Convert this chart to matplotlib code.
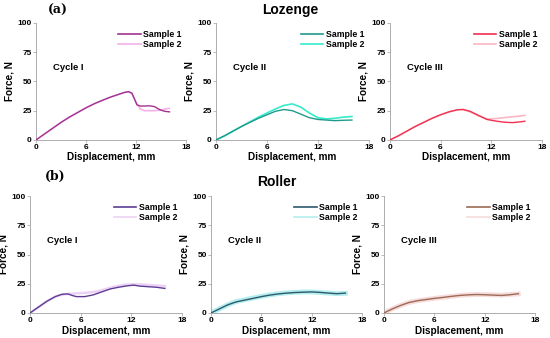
import matplotlib
matplotlib.use("Agg")
import matplotlib.pyplot as plt

plt.rcParams["font.family"] = ["Liberation Sans", "DejaVu Sans"]

# displacement (mm) / force (N)
# Lozenge, cycle I
loz1_x1 = [0, 1, 2, 3, 4, 5, 6, 7, 8, 9, 10, 10.6, 11.1, 11.5, 11.8, 12.1, 12.5, 13, 13.6, 14.2, 14.8, 15.4, 16]
loz1_y1 = [0, 5, 10, 15, 19.5, 23.5, 27.5, 31, 34, 36.8, 39.2, 40.6, 41.3, 40, 35, 30, 29, 29, 29.2, 28.5, 26, 24.5, 24]
loz1_x2 = [0, 1, 2, 3, 4, 5, 6, 7, 8, 9, 10, 10.6, 11.1, 11.5, 12, 12.5, 13, 14, 15, 15.5, 16]
loz1_y2 = [0, 5, 10, 15, 19.5, 23.5, 27.5, 31, 34, 36.8, 39.2, 40.6, 41, 39.5, 32, 26.5, 25, 25, 25.5, 26.5, 27]
# Lozenge, cycle II
loz2_x1 = [0, 1, 2, 3, 4, 5, 6, 7, 8, 9, 10, 11, 12, 13, 14, 15, 16]
loz2_y1 = [0, 3.5, 7.5, 11.5, 15, 18.5, 21.5, 24.5, 26, 25, 22, 19, 17.5, 17, 16.5, 16.8, 17]
loz2_x2 = [0, 1, 2, 3, 4, 5, 6, 7, 8, 9, 10, 11, 12, 13, 14, 15, 16]
loz2_y2 = [0, 3.5, 7.5, 11.5, 15.5, 19.5, 23, 26.5, 29.5, 30.8, 28, 23, 19, 18, 18.5, 19.5, 20]
# Lozenge, cycle III
loz3_x1 = [0, 1, 2, 3, 4, 5, 6, 7, 8, 8.7, 9.5, 10.5, 11.5, 12.5, 13.5, 14.5, 15.5, 16]
loz3_y1 = [0, 3.5, 7.5, 11.5, 15, 18.5, 21.5, 24, 25.8, 26, 24.5, 21, 17.5, 16.2, 15.2, 14.8, 15.5, 16]
loz3_x2 = [0, 1, 2, 3, 4, 5, 6, 7, 8, 8.7, 9.5, 10.5, 11.5, 12.5, 13.5, 14.5, 15.5, 16]
loz3_y2 = [0, 3.5, 7.5, 11.5, 15, 18.5, 21.5, 24, 25.8, 26, 24, 20.5, 18, 18.2, 19, 19.8, 20.5, 21]
# Roller, cycle I
rol1_x1 = [0, 1, 2, 3, 3.8, 4.5, 5, 5.5, 6.5, 7.5, 8.5, 9.5, 10.5, 11.5, 12.3, 13, 14, 15, 16]
rol1_y1 = [0, 5, 10, 14, 16, 16.3, 15, 14, 14, 15.5, 18, 20.5, 22, 23.2, 23.8, 23, 22.5, 22, 21]
rol1_x2 = [0, 1, 2, 3, 4, 5, 6, 7, 8, 9, 10, 11, 12, 13, 14, 15, 16]
rol1_y2 = [0, 5, 10, 14, 16, 16.5, 17, 17.5, 18.5, 20.5, 22.5, 24, 24.5, 24.5, 24, 23.5, 23]
# Roller, cycle II
rol2_x1 = [0, 1, 2, 3, 4, 5, 6, 7, 8, 9, 10, 11, 12, 13, 14, 15, 16]
rol2_y1 = [0, 3.5, 7, 9.5, 11, 12.5, 14, 15.3, 16.3, 17, 17.5, 17.8, 18, 17.6, 17, 16.5, 17]
rol2_x2 = [0, 1, 2, 3, 4, 5, 6, 7, 8, 9, 10, 11, 12, 13, 14, 15, 16]
rol2_y2 = [0, 3.5, 7, 9.8, 11.3, 12.8, 14.2, 15.5, 16.5, 17.2, 17.7, 18, 18, 17.5, 17, 16.5, 16.8]
# Roller, cycle III
rol3_x1 = [0, 1, 2, 3, 4, 5, 6, 7, 8, 9, 10, 11, 12, 13, 14, 15, 16]
rol3_y1 = [0, 3.5, 6.5, 9, 10.5, 11.5, 12.5, 13.3, 14.2, 15, 15.5, 15.8, 15.6, 15.3, 15, 15.6, 16.5]
rol3_x2 = [0, 1, 2, 3, 4, 5, 6, 7, 8, 9, 10, 11, 12, 13, 14, 15, 16]
rol3_y2 = [0, 3.5, 6.5, 9, 10.5, 11.5, 12.5, 13.3, 14.2, 15, 15.5, 15.8, 15.8, 15.5, 15.3, 15.8, 16.3]

x_ticks = [0, 6, 12, 18]
y_ticks = [0, 25, 50, 75, 100]
cycle_names = ["Cycle I", "Cycle II", "Cycle III"]

panels = [
    # (rect, x1, y1, x2, y2, color1, color2, lw2, cycle)
    ([0.0655, 0.586, 0.273, 0.346], loz1_x1, loz1_y1, loz1_x2, loz1_y2, "#a2338f", "#f4b2ea", 1.2, 0),
    ([0.3927, 0.586, 0.278, 0.346], loz2_x1, loz2_y1, loz2_x2, loz2_y2, "#1f9a8c", "#35ecca", 1.2, 1),
    ([0.709, 0.586, 0.276, 0.346], loz3_x1, loz3_y1, loz3_x2, loz3_y2, "#f2304f", "#f9b8c2", 1.2, 2),
    ([0.0545, 0.074, 0.276, 0.346], rol1_x1, rol1_y1, rol1_x2, rol1_y2, "#5e3d96", "#ecd2f4", 1.8, 0),
    ([0.3836, 0.074, 0.275, 0.346], rol2_x1, rol2_y1, rol2_x2, rol2_y2, "#2d5a6e", "#b4eeee", 3.5, 1),
    ([0.698, 0.074, 0.275, 0.346], rol3_x1, rol3_y1, rol3_x2, rol3_y2, "#9c6a55", "#f6dcdc", 3.5, 2),
]

fig = plt.figure(figsize=(5.5, 3.38), dpi=100)

for rect, x1, y1, x2, y2, c1, c2, lw2, cyc in panels:
    ax = fig.add_axes(rect)
    ax.plot(x2, y2, color=c2, lw=lw2, label="Sample 2", zorder=2)
    ax.plot(x1, y1, color=c1, lw=1.0, label="Sample 1", zorder=3)
    ax.set_xlim(0, 18)
    ax.set_ylim(0, 100)
    ax.set_xticks(x_ticks)
    ax.set_yticks(y_ticks)
    for s in ["top", "right"]:
        ax.spines[s].set_visible(False)
    for s in ["left", "bottom"]:
        ax.spines[s].set_color("#a0a0a0")
        ax.spines[s].set_linewidth(0.6)
    ax.tick_params(length=2, width=0.5, color="#a0a0a0", labelsize=6, pad=1)
    for lab in ax.get_xticklabels() + ax.get_yticklabels():
        lab.set_fontweight("bold")
    ax.set_xlabel("Displacement, mm", fontsize=7.2, fontweight="bold", labelpad=1)
    ax.set_ylabel("Force, N", fontsize=7.2, fontweight="bold", labelpad=2)
    ax.text(2.0, 62, cycle_names[cyc], fontsize=6.8, fontweight="bold", va="center")
    h, l = ax.get_legend_handles_labels()
    leg = ax.legend(h[::-1], l[::-1], loc="upper right", bbox_to_anchor=(1.0, 0.98),
                    frameon=False, prop={"size": 6.3, "weight": "bold"},
                    handlelength=2.6, handletextpad=0.3, labelspacing=0.1, borderpad=0)
    for lh in leg.legend_handles:
        lh.set_linewidth(1.2)

fig.text(58 / 550, 1 - 10 / 338, "(a)", family="DejaVu Serif", fontsize=9,
         fontweight="bold", ha="center", va="center")
fig.text(290 / 550, 1 - 10 / 338, "Lozenge", fontsize=10, fontweight="bold",
         ha="center", va="center")
fig.text(55 / 550, 1 - 176 / 338, "(b)", family="DejaVu Serif", fontsize=9,
         fontweight="bold", ha="center", va="center")
fig.text(277 / 550, 1 - 182 / 338, "Roller", fontsize=10, fontweight="bold",
         ha="center", va="center")

fig.savefig("out.png", dpi=100)
